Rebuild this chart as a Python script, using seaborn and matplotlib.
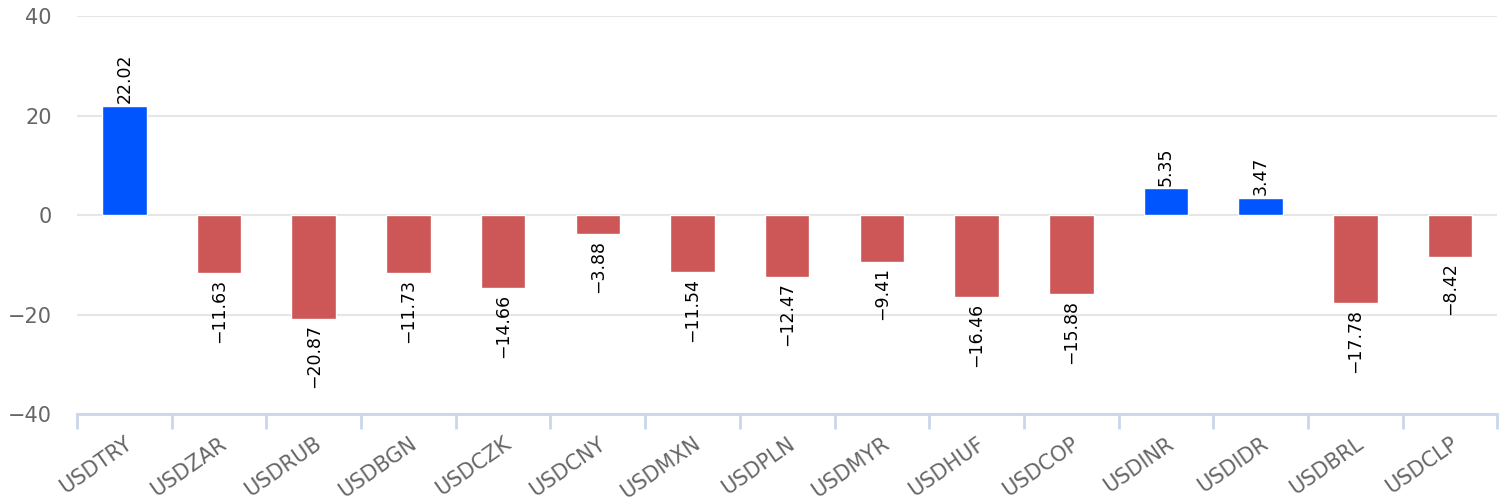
import numpy as np
import pandas as pd
import matplotlib
matplotlib.use('Agg')
import matplotlib.pyplot as plt
import seaborn as sns

pairs = ['USDTRY', 'USDZAR', 'USDRUB', 'USDBGN', 'USDCZK', 'USDCNY', 'USDMXN', 'USDPLN',
         'USDMYR', 'USDHUF', 'USDCOP', 'USDINR', 'USDIDR', 'USDBRL', 'USDCLP']
changes = [22.02, -11.63, -20.87, -11.73, -14.66, -3.88, -11.54, -12.47,
           -9.41, -16.46, -15.88, 5.35, 3.47, -17.78, -8.42]

df = pd.DataFrame({'pair': pairs, 'change': changes})
df['sign'] = np.where(df['change'] >= 0, 'up', 'down')

sns.set_style('white')
plt.rcParams['font.family'] = ['DejaVu Sans']

fig = plt.figure(figsize=(15, 5.03), dpi=100)
ax = fig.add_axes([0.0513, 0.177, 0.947, 0.791])

sns.barplot(data=df, x='pair', y='change', hue='sign',
            palette={'up': '#0055FF', 'down': '#CD5757'}, saturation=1,
            dodge=False, width=0.47, legend=False, edgecolor='white',
            linewidth=1, ax=ax, zorder=3)

# value labels
for i, v in enumerate(changes):
    txt = f'{v:.2f}'.replace('-', '\u2212')
    if v >= 0:
        ax.annotate(txt, (i, v), xytext=(0, 2), textcoords='offset points',
                    rotation=90, ha='center', va='bottom', fontsize=12.5, color='black')
    else:
        ax.annotate(txt, (i, v), xytext=(0, -4), textcoords='offset points',
                    rotation=90, ha='center', va='top', fontsize=12.5, color='black')

ax.set_ylim(-40, 40)
ax.set_xlim(-0.5, len(pairs) - 0.5)
ax.set_yticks([-40, -20, 0, 20, 40])
ax.set_yticklabels(['\u221240', '\u221220', '0', '20', '40'])
ax.yaxis.grid(True, color='#e6e6e6', linewidth=1.5, zorder=0)
ax.set_axisbelow(True)

ax.set_xticks(range(len(pairs)))
ax.set_xticklabels(pairs, rotation=35, ha='right', rotation_mode='anchor')
ax.set_xticks(np.arange(-0.5, len(pairs), 1), minor=True)
ax.tick_params(axis='x', which='major', bottom=True, length=0, pad=14, labelsize=15, labelcolor='#666666')
ax.tick_params(axis='x', which='minor', bottom=True, length=11, width=2, color='#ccd6eb', direction='out')
ax.tick_params(axis='y', length=0, pad=18, labelsize=15, labelcolor='#666666')

ax.set_xlabel('')
ax.set_ylabel('')
for s in ['top', 'right', 'left']:
    ax.spines[s].set_visible(False)
ax.spines['bottom'].set_color('#ccd6eb')
ax.spines['bottom'].set_linewidth(2)

fig.savefig('out.png', dpi=100)
